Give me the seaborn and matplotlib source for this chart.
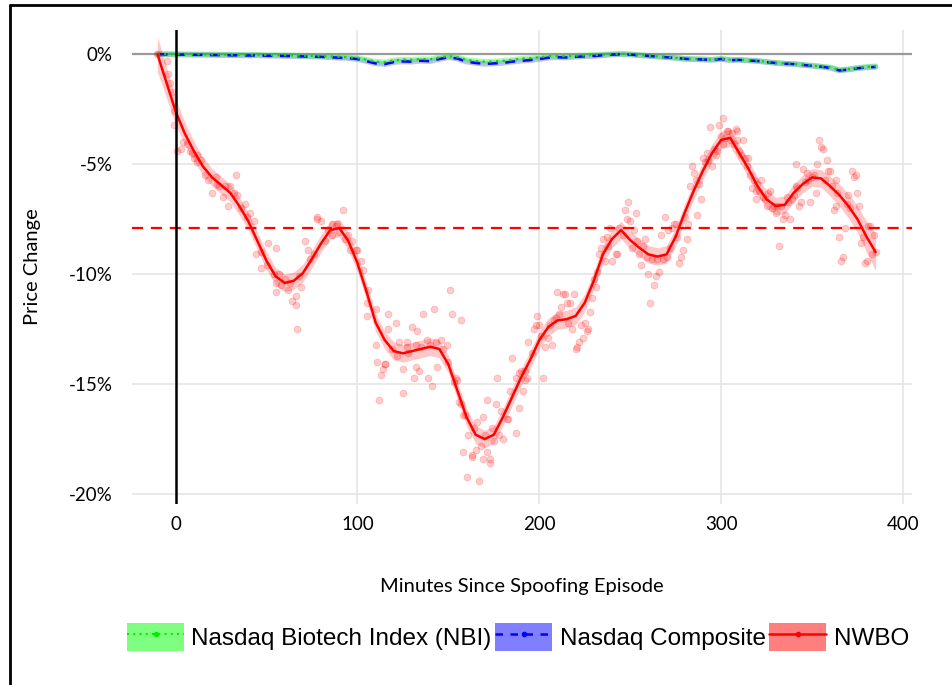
import numpy as np
import pandas as pd
import matplotlib
matplotlib.use("Agg")
import matplotlib.pyplot as plt
from matplotlib.lines import Line2D
from matplotlib.patches import Patch
from matplotlib.ticker import FuncFormatter
import seaborn as sns

# smooth curves sampled every 5 minutes
minutes = list(range(-10, 390, 5))

nwbo_smooth = [0.0, -1.3, -2.6, -3.6, -4.4, -5.1, -5.6, -5.95, -6.3, -6.9,
               -7.6, -8.5, -9.4, -10.1, -10.4, -10.3, -9.95, -9.3, -8.6, -8.0,
               -7.9, -8.5, -9.5, -10.8, -12.2, -13.0, -13.5, -13.6, -13.5, -13.4,
               -13.3, -13.4, -14.1, -15.3, -16.5, -17.3, -17.5, -17.3, -16.5, -15.6,
               -14.7, -13.9, -13.0, -12.4, -12.1, -12.05, -11.9, -11.3, -10.3, -9.1,
               -8.4, -8.0, -8.45, -8.8, -9.1, -9.2, -9.1, -8.3, -7.2, -6.2,
               -5.3, -4.5, -3.9, -3.8, -4.5, -5.2, -6.0, -6.6, -6.9, -6.85,
               -6.3, -5.9, -5.6, -5.65, -6.0, -6.4, -6.9, -7.5, -8.3, -9.0]
nwbo_band = [0.8, 0.7, 0.6, 0.5, 0.45, 0.4, 0.4, 0.4, 0.4, 0.4,
             0.4, 0.4, 0.4, 0.4, 0.4, 0.4, 0.4, 0.4, 0.4, 0.4,
             0.4, 0.4, 0.4, 0.4, 0.4, 0.4, 0.4, 0.4, 0.4, 0.4,
             0.4, 0.4, 0.4, 0.4, 0.4, 0.4, 0.4, 0.4, 0.4, 0.4,
             0.4, 0.4, 0.4, 0.4, 0.4, 0.4, 0.4, 0.4, 0.4, 0.4,
             0.4, 0.4, 0.4, 0.4, 0.4, 0.4, 0.4, 0.4, 0.4, 0.4,
             0.4, 0.4, 0.4, 0.4, 0.4, 0.4, 0.4, 0.4, 0.4, 0.4,
             0.4, 0.4, 0.4, 0.4, 0.45, 0.5, 0.55, 0.6, 0.7, 0.85]

composite = [0.0, -0.01, -0.02, -0.02, -0.03, -0.03, -0.04, -0.04, -0.05, -0.05,
             -0.06, -0.05, -0.07, -0.07, -0.08, -0.09, -0.10, -0.11, -0.12, -0.14,
             -0.16, -0.18, -0.22, -0.32, -0.42, -0.45, -0.36, -0.33, -0.34, -0.30,
             -0.32, -0.22, -0.14, -0.20, -0.34, -0.40, -0.44, -0.42, -0.40, -0.34,
             -0.30, -0.27, -0.22, -0.16, -0.14, -0.15, -0.12, -0.10, -0.08, -0.05,
             -0.02, 0.0, -0.02, -0.05, -0.08, -0.11, -0.14, -0.17, -0.21, -0.23,
             -0.24, -0.26, -0.22, -0.27, -0.26, -0.29, -0.31, -0.36, -0.40, -0.43,
             -0.45, -0.49, -0.53, -0.57, -0.62, -0.74, -0.70, -0.64, -0.60, -0.58]
nbi = [0.0, 0.01, 0.01, 0.0, 0.0, -0.01, -0.01, -0.02, -0.02, -0.03,
       -0.02, -0.03, -0.04, -0.04, -0.05, -0.06, -0.07, -0.08, -0.09, -0.10,
       -0.12, -0.14, -0.17, -0.25, -0.34, -0.36, -0.28, -0.24, -0.25, -0.22,
       -0.23, -0.15, -0.09, -0.14, -0.26, -0.31, -0.34, -0.33, -0.30, -0.26,
       -0.20, -0.18, -0.14, -0.09, -0.08, -0.10, -0.07, -0.06, -0.04, -0.02,
       0.01, 0.02, 0.0, -0.04, -0.07, -0.10, -0.13, -0.17, -0.21, -0.22,
       -0.23, -0.25, -0.20, -0.25, -0.25, -0.28, -0.30, -0.35, -0.39, -0.42,
       -0.44, -0.48, -0.52, -0.56, -0.60, -0.72, -0.68, -0.62, -0.58, -0.54]

# NWBO minute observations (price change, %)
nwbo_x = [-10, -5, -4, -3, -2, -1, -1, 1, 3, 4, 8, 10, 12, 14, 16, 18, 20, 22, 24, 26,
          29, 30, 32, 33, 34, 38, 41, 43, 44, 47, 51, 54, 55, 57, 62, 66, 69, 71, 73, 76,
          78, 80, 82, 86, 55, 55, 64, 66, 67, 78, 92, 99, 103, 106, 110, 110, 112, 113, 115, 117,
          117, 121, 125, 127, 130, 131, 132, 134, 136, 139, 141, 142, 144, 146, 151, 152, 157, 154, 158, 160,
          163, 167, 171, 173, 176, 177, 185, 187, 192, 97, 100, 105, 105, 111, 114, 115, 123, 125, 127, 132,
          133, 138, 149, 155, 156, 159, 161, 158, 163, 165, 166, 169, 169, 171, 173, 175, 178, 180, 182, 183,
          187, 189, 191, 192, 194, 189, 193, 197, 198, 199, 200, 202, 203, 205, 207, 208, 210, 211, 212, 213,
          214, 215, 217, 218, 219, 220, 221, 222, 223, 224, 225, 226, 227, 229, 230, 232, 233, 234, 235, 237,
          239, 240, 242, 243, 244, 247, 249, 248, 250, 252, 253, 254, 255, 256, 258, 260, 261, 262, 263, 264,
          266, 267, 268, 269, 271, 273, 274, 275, 277, 278, 279, 281, 282, 283, 284, 285, 286, 287, 289, 290,
          291, 292, 295, 297, 294, 298, 299, 300, 301, 301, 303, 304, 306, 308, 309, 309, 312, 313, 315, 314,
          316, 318, 317, 319, 320, 319, 322, 323, 325, 326, 327, 329, 330, 332, 333, 334, 335, 336, 338, 339,
          341, 341, 343, 344, 345, 347, 348, 349, 351, 352, 353, 354, 355, 356, 358, 359, 360, 363, 362, 363,
          365, 366, 367, 368, 370, 372, 373, 374, 375, 376, 377, 378, 379, 380, 381, 382, 383, 384,
          36, 39, 84, 88, 90, 93, 95, 102, 119, 122, 128, 135, 140, 143, 147, 6, 9, 12, 23, 27,
          47, 50, 58, 60, 63, 68, 74, 86, 89, 96, 150, 153, 157, 164, 168, 170, 174, 179, 184, 190,
          196, 201, 206, 209, 216, 228, 231, 236, 238, 246, 251, 257, 259, 265, 270, 272, 276, 280, 288, 293,
          296, 302, 305, 307, 310, 311, 321, 324, 328, 331, 337, 340, 342, 346, 350, 357, 361, 364, 369, 371, 385]
nwbo_y = [0.0, -0.3, -0.9, -1.3, -1.7, -2.6, -3.2, -4.4, -4.3, -4.0, -4.4, -4.7, -4.6, -4.8, -5.5, -5.7, -6.3, -5.6, -6.0, -6.5,
          -6.9, -6.0, -6.3, -5.5, -6.4, -6.8, -7.2, -7.6, -9.1, -9.7, -8.6, -10.0, -10.4, -10.0, -10.7, -11.0, -10.6, -8.5, -8.9, -9.1,
          -7.4, -7.6, -8.5, -8.2, -8.8, -10.8, -11.2, -11.4, -12.5, -7.5, -7.1, -8.9, -9.8, -10.7, -11.6, -13.2, -15.7, -14.6, -14.1, -12.5,
          -11.8, -12.2, -15.4, -13.1, -12.4, -14.7, -14.2, -14.4, -11.8, -14.7, -15.1, -11.6, -14.2, -13.0, -10.7, -11.8, -12.1, -14.7, -16.4, -19.2,
          -18.2, -19.4, -15.7, -18.4, -15.9, -14.7, -13.8, -17.2, -14.4, -8.5, -8.9, -11.3, -11.9, -14.0, -14.3, -14.1, -13.1, -14.3, -13.3, -13.2,
          -12.6, -13.0, -13.2, -14.8, -15.8, -16.4, -17.3, -18.1, -18.3, -18.0, -16.7, -16.5, -18.4, -18.1, -18.6, -17.6, -17.3, -17.5, -16.6, -16.6,
          -14.7, -16.1, -15.3, -14.8, -13.1, -14.5, -14.7, -12.5, -12.3, -11.9, -12.3, -14.7, -13.3, -12.9, -13.2, -12.1, -10.8, -11.8, -11.5, -10.9,
          -10.9, -11.3, -11.3, -12.5, -10.9, -13.4, -13.3, -13.1, -12.3, -12.9, -12.2, -12.6, -12.5, -11.1, -10.2, -9.9, -9.1, -8.8, -8.4, -8.3,
          -7.9, -9.4, -9.1, -9.1, -7.9, -7.1, -6.7, -7.5, -7.6, -8.0, -7.2, -8.5, -9.1, -9.6, -8.4, -10.0, -11.3, -9.3, -10.5, -10.1,
          -9.9, -8.2, -9.3, -7.4, -8.0, -7.9, -7.7, -7.7, -9.5, -9.2, -8.9, -8.4, -7.7, -6.0, -5.1, -5.4, -5.7, -7.3, -6.6, -4.7,
          -4.9, -4.5, -5.1, -4.6, -3.3, -4.4, -3.2, -3.7, -2.9, -4.1, -3.5, -3.5, -3.6, -3.4, -3.5, -3.9, -3.9, -4.7, -4.7, -5.1,
          -5.5, -5.7, -6.1, -6.2, -5.9, -6.6, -5.7, -6.5, -6.9, -6.3, -6.2, -6.9, -7.2, -8.7, -6.9, -7.5, -7.3, -6.5, -7.5, -6.6,
          -5.0, -6.0, -6.9, -6.7, -5.2, -5.4, -5.7, -6.7, -5.5, -6.3, -5.0, -3.9, -4.2, -4.3, -4.8, -5.3, -5.3, -5.7, -7.1, -6.9,
          -8.3, -9.4, -9.2, -7.9, -6.4, -5.3, -5.6, -5.5, -6.3, -6.9, -8.6, -8.3, -9.5, -9.4, -7.8, -7.8, -9.1, -8.2,
          -7.0, -7.4, -8.0, -7.8, -8.1, -8.4, -8.2, -9.4, -13.4, -13.7, -13.6, -13.3, -13.2, -13.1, -13.4, -4.1, -4.5, -4.9, -5.9, -6.0,
          -9.0, -9.6, -10.5, -10.2, -10.4, -10.1, -9.3, -7.7, -7.7, -8.9, -14.0, -14.9, -15.9, -17.0, -17.8, -17.3, -17.0, -16.2, -15.3, -14.4,
          -13.6, -12.8, -12.3, -12.0, -12.2, -11.7, -10.6, -9.4, -8.7, -8.2, -8.8, -8.7, -9.2, -9.3, -9.2, -8.8, -8.3, -7.4, -5.9, -4.8,
          -4.3, -3.8, -3.9, -4.1, -4.4, -4.6, -6.2, -6.6, -7.0, -6.9, -6.7, -6.4, -6.1, -5.8, -5.6, -5.7, -6.0, -6.3, -6.8, -7.0, -9.0]

benchmark_level = -7.9
series_labels = ["Nasdaq Biotech Index (NBI)", "Nasdaq Composite", "NWBO"]
y_ticks = [0, -5, -10, -15, -20]
x_ticks = [0, 100, 200, 300, 400]

smooth_df = pd.DataFrame({"minute": minutes, "nwbo": nwbo_smooth, "band": nwbo_band,
                          "composite": composite, "nbi": nbi})
points_df = pd.DataFrame({"minute": nwbo_x, "change": nwbo_y})

sns.set_theme(style="whitegrid")
plt.rcParams["font.family"] = ["Lato", "DejaVu Sans"]
plt.rcParams["text.color"] = "black"
plt.rcParams["axes.labelcolor"] = "black"

fig = plt.figure(figsize=(9.52, 6.85), dpi=100)
ax = fig.add_axes([132 / 952, 1 - 504 / 685, 780 / 952, 474 / 685])
ax.set_facecolor("white")

ax.axhline(0, color="#9a9a9a", lw=1.6, zorder=1)

# index bands (thin translucent) and lines
sns.lineplot(data=smooth_df, x="minute", y="composite", color="#3333ff", lw=4, alpha=0.3, ax=ax, zorder=2)
sns.lineplot(data=smooth_df, x="minute", y="nbi", color="#22ee22", lw=4, alpha=0.35, ax=ax, zorder=2)
sns.lineplot(data=smooth_df, x="minute", y="composite", color="#0000ff", lw=1.8, ax=ax, zorder=3,
             linestyle=(0, (4, 3)))
sns.lineplot(data=smooth_df, x="minute", y="nbi", color="#00dd00", lw=1.6, ax=ax, zorder=3,
             linestyle=(0, (1, 2)))

# NWBO observations, smooth and ribbon
sns.scatterplot(data=points_df, x="minute", y="change", color="#ff0000", alpha=0.2, s=24,
                linewidth=0.6, edgecolor="#ff0000", ax=ax, zorder=2)
lo = [m - b for m, b in zip(nwbo_smooth, nwbo_band)]
hi = [m + b for m, b in zip(nwbo_smooth, nwbo_band)]
ax.fill_between(minutes, lo, hi, color="#ff0000", alpha=0.22, lw=0, zorder=3)
sns.lineplot(data=smooth_df, x="minute", y="nwbo", color="#ff0000", lw=1.8, ax=ax, zorder=4)

ax.axhline(benchmark_level, color="#ff0000", lw=1.6, linestyle=(0, (5, 3.5)), zorder=5)
ax.axvline(0, color="black", lw=1.8, zorder=6)

ax.set_xlim(-24, 405)
ax.set_ylim(-20.45, 1.1)
ax.set_xticks(x_ticks)
ax.set_yticks(y_ticks)
ax.yaxis.set_major_formatter(FuncFormatter(lambda v, p: f"{int(v)}%"))
ax.tick_params(axis="y", length=0, labelsize=13.5, colors="black", pad=14)
ax.tick_params(axis="x", length=0, labelsize=13.5, colors="black", pad=9)
ax.grid(True, color="#e3e3e3", lw=1.1)
for s in ax.spines.values():
    s.set_visible(False)
ax.set_xlabel("Minutes Since Spoofing Episode", fontsize=14.5, labelpad=32)
ax.set_ylabel("Price Change", fontsize=14.5, labelpad=20)

handles = [
    (Patch(facecolor="#00ff00", alpha=0.5, edgecolor="none"),
     Line2D([], [], color="#00ee00", lw=1.5, linestyle=(0, (1, 2)), marker="o", markersize=3)),
    (Patch(facecolor="#0000ff", alpha=0.5, edgecolor="none"),
     Line2D([], [], color="#0000ff", lw=1.8, linestyle=(0, (3, 3)), marker="o", markersize=3)),
    (Patch(facecolor="#ff0000", alpha=0.5, edgecolor="none"),
     Line2D([], [], color="#ff0000", lw=1.8, marker="o", markersize=3)),
]
leg = fig.legend(handles, series_labels, loc="center", bbox_to_anchor=(518 / 952, 1 - 637 / 685), ncol=3,
                 frameon=False, handlelength=2.35, handleheight=1.35, handletextpad=0.3, columnspacing=0.15,
                 prop={"family": ["Liberation Sans"], "size": 17.5})
for t in leg.get_texts():
    t.set_color("black")

# frame around the figure (left and top edges visible)
fig.add_artist(Line2D([10 / 952, 10 / 952], [0, 1 - 5 / 685], color="black", lw=2, transform=fig.transFigure))
fig.add_artist(Line2D([10 / 952, 1], [1 - 5 / 685, 1 - 5 / 685], color="black", lw=2, transform=fig.transFigure))

fig.savefig("out.png", dpi=100, facecolor="white")
